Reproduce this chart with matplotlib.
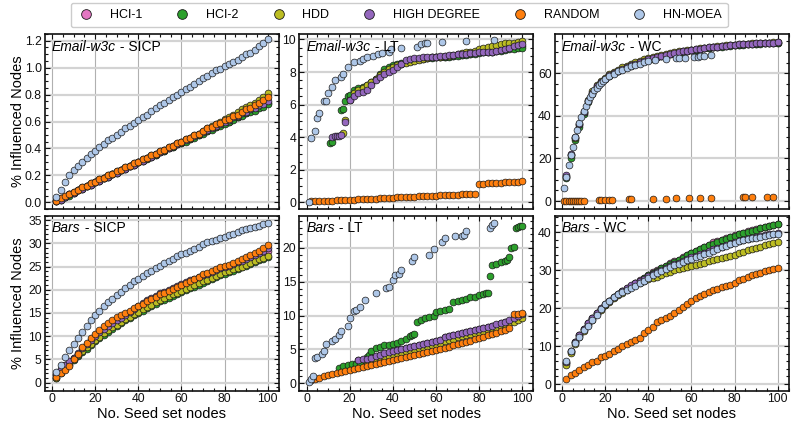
import matplotlib
matplotlib.use("Agg")
import matplotlib.pyplot as plt
from matplotlib.lines import Line2D
from matplotlib.ticker import MultipleLocator, AutoMinorLocator

plt.rcParams['font.family'] = ['Liberation Sans', 'DejaVu Sans']

methods = ['HCI-1', 'HCI-2', 'HDD', 'HIGH DEGREE', 'RANDOM', 'HN-MOEA']
colors = ['#e377c2', '#2ca02c', '#bcbd22', '#9467bd', '#ff7f0e', '#aec7e8']
seeds = list(range(2, 101, 2))

# ---------------- Email-w3c - SICP ----------------
em_sicp_hci1 = [0.01,0.02,0.04,0.06,0.07,0.09,0.10,0.12,0.13,0.15,
                0.16,0.18,0.19,0.21,0.22,0.24,0.25,0.27,0.28,0.30,
                0.31,0.33,0.34,0.35,0.37,0.38,0.40,0.41,0.43,0.44,
                0.46,0.47,0.49,0.50,0.52,0.53,0.55,0.56,0.58,0.59,
                0.60,0.62,0.63,0.65,0.66,0.68,0.69,0.71,0.72,0.74]
em_sicp_hci2 = [0.01,0.02,0.04,0.05,0.07,0.09,0.10,0.12,0.13,0.15,
                0.16,0.18,0.19,0.21,0.22,0.24,0.25,0.27,0.28,0.30,
                0.31,0.32,0.34,0.35,0.37,0.38,0.40,0.41,0.43,0.44,
                0.45,0.47,0.48,0.50,0.51,0.53,0.54,0.56,0.57,0.58,
                0.60,0.61,0.63,0.64,0.66,0.67,0.68,0.70,0.71,0.73]
em_sicp_hdd = [0.01,0.03,0.04,0.06,0.08,0.09,0.11,0.12,0.14,0.15,
               0.17,0.18,0.20,0.21,0.23,0.24,0.26,0.27,0.29,0.30,
               0.32,0.33,0.35,0.36,0.38,0.39,0.41,0.42,0.44,0.45,
               0.47,0.48,0.50,0.51,0.53,0.55,0.57,0.58,0.60,0.62,
               0.63,0.65,0.67,0.69,0.71,0.72,0.74,0.76,0.78,0.81]
em_sicp_highdeg = [0.01,0.02,0.04,0.06,0.07,0.09,0.10,0.12,0.13,0.15,
                   0.16,0.18,0.19,0.21,0.22,0.24,0.25,0.27,0.28,0.30,
                   0.31,0.33,0.34,0.36,0.37,0.39,0.40,0.42,0.43,0.45,
                   0.46,0.48,0.49,0.51,0.52,0.54,0.55,0.57,0.58,0.60,
                   0.61,0.63,0.64,0.66,0.67,0.69,0.70,0.72,0.73,0.75]
em_sicp_random = [0.01,0.03,0.05,0.06,0.08,0.09,0.11,0.12,0.14,0.15,
                  0.17,0.18,0.20,0.21,0.23,0.24,0.26,0.27,0.29,0.30,
                  0.32,0.33,0.35,0.36,0.38,0.39,0.41,0.42,0.44,0.45,
                  0.47,0.48,0.50,0.51,0.53,0.55,0.56,0.58,0.59,0.61,
                  0.62,0.64,0.65,0.67,0.69,0.70,0.72,0.74,0.76,0.78]
em_sicp_hnmoea = [0.04,0.09,0.15,0.20,0.24,0.27,0.30,0.33,0.36,0.38,
                  0.41,0.43,0.46,0.48,0.50,0.52,0.55,0.57,0.59,0.61,
                  0.63,0.65,0.68,0.70,0.72,0.74,0.76,0.78,0.80,0.82,
                  0.84,0.86,0.88,0.90,0.92,0.94,0.96,0.98,0.99,1.01,
                  1.03,1.04,1.06,1.08,1.10,1.11,1.13,1.16,1.18,1.21]

# ---------------- Email-w3c - LT ----------------
em_lt_dense_x = list(range(20, 101, 2))
em_lt_hci1 = [6.4,6.7,6.85,6.95,7.05,7.3,7.55,7.8,8.05,8.2,
              8.3,8.4,8.5,8.6,8.7,8.75,8.8,8.85,8.85,8.9,
              8.9,8.95,8.95,9.0,9.0,9.05,9.05,9.1,9.1,9.15,
              9.2,9.2,9.25,9.25,9.3,9.35,9.4,9.45,9.5,9.55,9.6]
em_lt_hci2_x = [11, 12, 16, 17, 18, 19] + em_lt_dense_x
em_lt_hci2 = [3.65,3.7,5.7,5.75,6.2,6.5,
              6.6,6.9,7.0,7.1,7.2,7.4,7.6,7.9,8.2,8.3,
              8.4,8.5,8.55,8.6,8.7,8.75,8.8,8.8,8.85,8.85,
              8.9,8.9,8.95,8.95,9.0,9.0,9.05,9.05,9.1,9.1,
              9.15,9.2,9.2,9.25,9.3,9.3,9.35,9.4,9.4,9.45,9.45]
em_lt_hdd_x = [17, 18] + em_lt_dense_x
em_lt_hdd = [4.25,5.05,
             6.3,6.7,6.9,7.0,7.2,7.4,7.6,7.8,8.0,8.2,
             8.3,8.4,8.5,8.55,8.6,8.7,8.75,8.8,8.85,8.9,
             8.9,8.95,9.0,9.0,9.05,9.1,9.15,9.2,9.25,9.3,
             9.4,9.5,9.55,9.6,9.65,9.7,9.75,9.8,9.8,9.85,9.9]
em_lt_highdeg_x = [12, 13, 14, 15, 16, 18] + em_lt_dense_x
em_lt_highdeg = [4.0,4.05,4.1,4.1,4.15,4.95,
                 6.3,6.5,6.7,6.8,6.9,7.2,7.5,7.7,7.9,8.0,
                 8.1,8.3,8.5,8.75,8.8,8.85,8.85,8.9,8.9,8.95,
                 8.95,9.0,9.0,9.05,9.05,9.1,9.1,9.1,9.15,9.15,
                 9.2,9.2,9.25,9.25,9.3,9.35,9.4,9.5,9.6,9.65,9.7]
em_lt_random = [0.06,0.07,0.08,0.09,0.11,0.12,0.13,0.14,0.16,0.17,
                0.18,0.19,0.21,0.22,0.23,0.24,0.26,0.27,0.28,0.29,
                0.31,0.32,0.33,0.34,0.36,0.37,0.38,0.40,0.41,0.42,
                0.43,0.45,0.46,0.47,0.48,0.50,0.51,0.52,0.54,1.15,
                1.16,1.18,1.19,1.21,1.22,1.24,1.25,1.27,1.28,1.30]
em_lt_hnmoea_x = [1,2,4,5,6,8,9,10,12,13,16,17,19,22,25,26,28,31,33,35,
                  38,39,44,51,53,55,56,63,74,87]
em_lt_hnmoea = [0.05,3.95,4.4,5.2,5.5,6.2,6.25,6.7,7.1,7.5,7.7,7.9,8.3,8.6,8.65,
                8.8,8.9,9.0,9.1,9.15,9.2,9.4,9.45,9.55,9.7,9.75,9.8,9.85,9.9,9.95]

# ---------------- Email-w3c - WC ----------------
em_wc_hci1 = [11.8,21.5,29.5,35.5,41.5,46.8,50.8,53.8,55.9,57.4,
              58.9,60.1,61.1,62.1,62.9,63.7,64.4,65.1,65.8,66.4,
              67.0,67.6,68.1,68.6,69.1,69.5,69.9,70.3,70.6,70.9,
              71.2,71.5,71.8,72.1,72.3,72.5,72.7,72.9,73.1,73.3,
              73.5,73.6,73.8,73.9,74.0,74.1,74.2,74.3,74.4,74.5]
em_wc_hci2 = [11.0,20.0,28.5,35.0,41.0,46.5,50.5,53.5,55.8,57.3,
              58.8,60.0,61.0,62.0,62.8,63.6,64.3,65.0,65.7,66.3,
              66.9,67.5,68.0,68.5,69.0,69.4,69.8,70.2,70.5,70.8,
              71.1,71.4,71.7,72.0,72.2,72.4,72.6,72.8,73.0,73.2,
              73.4,73.5,73.7,73.8,73.9,74.0,74.1,74.2,74.3,74.4]
em_wc_hdd = [11.5,21.5,29.5,36.0,42.0,47.5,51.5,54.5,56.5,58.0,
             59.5,60.8,61.8,62.8,63.6,64.4,65.2,66.0,66.6,67.2,
             67.8,68.3,68.8,69.2,69.6,70.0,70.3,70.6,70.9,71.2,
             71.5,71.8,72.0,72.3,72.5,72.7,72.9,73.1,73.3,73.5,
             73.7,73.8,74.0,74.1,74.2,74.3,74.4,74.5,74.6,74.7]
em_wc_highdeg = [12.0,22.0,30.0,36.0,42.0,47.0,51.0,54.0,56.0,57.5,
                 59.0,60.2,61.2,62.2,63.0,63.8,64.5,65.2,66.0,66.6,
                 67.2,67.8,68.3,68.8,69.2,69.6,70.0,70.4,70.7,71.0,
                 71.3,71.6,71.9,72.2,72.4,72.6,72.8,73.0,73.2,73.4,
                 73.6,73.7,73.9,74.0,74.1,74.2,74.3,74.4,74.5,74.6]
em_wc_random_x = [1,2,3,4,5,6,7,8,9,10,17,18,20,22,23,31,32,42,48,53,59,64,69,84,85,88,95,98]
em_wc_random = [0.0,0.0,0.0,0.05,0.05,0.1,0.1,0.1,0.15,0.15,0.35,0.4,0.45,0.5,0.55,
                0.8,0.85,1.1,1.15,1.25,1.3,1.45,1.6,1.7,1.75,1.8,1.9,1.95]
em_wc_hnmoea_x = list(range(1, 21)) + list(range(22, 41, 2)) + [43,48,53,54,57,61,63,64,66,69]
em_wc_hnmoea = [6.0,11.5,16.9,21.5,25.5,30.0,33.5,36.5,39.5,42.3,
                44.8,46.9,48.8,50.5,52.0,53.3,54.5,55.6,56.5,57.3,
                58.7,59.9,60.9,61.8,62.6,63.3,64.0,64.6,65.3,65.9,
                66.4,66.9,67.1,67.2,67.3,67.6,67.8,68.0,68.2,68.5]

# ---------------- Bars - SICP ----------------
bars_sicp_hci1 = [1.6,2.8,3.7,4.5,5.3,6.2,7.1,8.0,8.9,9.7,
                  10.5,11.2,11.9,12.6,13.2,13.8,14.4,15.0,15.6,16.2,
                  16.8,17.3,17.8,18.3,18.8,19.2,19.6,20.0,20.4,20.8,
                  21.2,21.6,22.0,22.4,22.8,23.1,23.5,23.8,24.2,24.5,
                  24.8,25.1,25.5,25.9,26.3,26.7,27.1,27.5,27.9,28.3]
bars_sicp_hci2 = [0.9,2.0,3.0,3.9,4.8,5.7,6.5,7.3,8.1,8.9,
                  9.6,10.3,11.0,11.6,12.2,12.8,13.4,13.9,14.5,15.0,
                  15.5,16.0,16.5,17.0,17.5,17.9,18.3,18.7,19.1,19.5,
                  19.9,20.3,20.7,21.1,21.5,21.9,22.3,22.7,23.1,23.5,
                  23.8,24.1,24.4,24.8,25.2,25.6,26.0,26.4,26.7,27.0]
bars_sicp_hdd = [1.0,2.2,3.2,4.1,5.0,5.9,6.8,7.6,8.4,9.2,
                 9.9,10.6,11.3,11.9,12.5,13.1,13.7,14.2,14.8,15.3,
                 15.8,16.3,16.8,17.3,17.8,18.2,18.6,19.0,19.4,19.8,
                 20.2,20.6,21.0,21.4,21.8,22.2,22.6,23.0,23.4,23.8,
                 24.1,24.4,24.7,25.0,25.4,25.8,26.2,26.6,26.9,27.2]
bars_sicp_highdeg = [1.8,3.0,3.9,4.6,5.4,6.4,7.4,8.3,9.2,10.0,
                     10.8,11.5,12.2,12.9,13.5,14.0,14.6,15.2,15.8,16.5,
                     17.1,17.7,18.2,18.7,19.2,19.6,20.0,20.4,20.8,21.2,
                     21.6,22.0,22.4,22.8,23.2,23.5,23.9,24.2,24.6,24.9,
                     25.2,25.5,25.9,26.3,26.7,27.1,27.5,27.9,28.4,28.9]
bars_sicp_random = [1.2,2.0,2.7,3.6,5.0,6.2,7.6,8.6,9.6,10.5,
                    11.3,12.1,12.8,13.5,14.1,14.6,15.0,15.4,16.0,16.4,
                    17.0,17.5,18.0,18.5,19.0,19.4,19.8,20.2,20.6,21.0,
                    21.4,21.9,22.3,22.8,23.3,23.7,24.1,24.5,24.8,25.1,
                    25.4,25.8,26.2,26.6,27.0,27.5,27.9,28.4,29.0,29.6]
bars_sicp_hnmoea = [2.3,3.8,5.6,7.0,8.3,9.7,11.0,12.2,13.4,14.5,
                    15.5,16.5,17.3,18.0,18.8,19.6,20.4,21.1,21.8,22.4,
                    23.0,23.6,24.1,24.6,25.1,25.7,26.2,26.7,27.2,27.6,
                    28.0,28.4,28.8,29.3,29.8,30.2,30.5,30.8,31.1,31.4,
                    31.7,32.0,32.4,32.8,33.1,33.4,33.6,33.8,34.1,34.3]

# ---------------- Bars - LT ----------------
bars_lt_hci1_x = list(range(24, 101, 2))
bars_lt_hci1 = [3.4,3.5,3.6,3.75,3.95,4.15,4.35,4.5,4.65,4.85,
                5.0,5.15,5.35,5.5,5.65,5.8,5.95,6.1,6.25,6.4,
                6.85,7.0,7.15,7.3,7.45,7.55,7.7,7.8,7.95,8.1,
                8.25,8.45,8.65,8.85,9.05,9.25,9.55,9.85,10.2]
bars_lt_hci2_x = [15,17,19,21,23,25,27,28,29,30,32,34,36,38,40,42,44,46,48,49,50,51,
                  53,55,57,59,60,62,64,66,68,70,72,74,76,78,80,82,83,84,85,86,88,90,
                  92,93,94,95,96,97,98,99,100]
bars_lt_hci2 = [2.3,2.5,2.7,2.8,2.9,3.0,3.4,3.9,4.2,4.8,5.2,5.4,5.6,5.7,5.8,6.0,6.3,6.6,
                7.0,7.2,7.3,9.1,9.4,9.6,9.8,10.0,10.5,10.7,10.8,11.0,12.0,12.1,12.3,12.5,
                12.7,12.8,13.0,13.2,13.3,13.3,15.8,17.5,17.7,17.9,18.0,18.2,18.6,20.0,
                20.1,23.0,23.1,23.2,23.3]
bars_lt_hdd_x = list(range(28, 101, 2))
bars_lt_hdd = [3.2,3.35,3.5,3.7,3.9,4.1,4.3,4.5,4.65,4.8,
               4.95,5.1,5.25,5.4,5.55,5.7,5.85,6.0,6.2,6.4,
               6.6,6.8,6.95,7.1,7.25,7.4,7.55,7.7,7.85,8.0,
               8.2,8.4,8.6,8.85,9.1,9.4,9.7]
bars_lt_highdeg_x = list(range(24, 101, 2))
bars_lt_highdeg = [3.45,3.55,3.65,3.8,4.0,4.2,4.4,4.55,4.7,4.9,
                   5.05,5.2,5.4,5.55,5.7,5.85,6.0,6.15,6.3,6.45,
                   6.9,7.05,7.2,7.35,7.5,7.6,7.75,7.85,8.0,8.15,
                   8.3,8.5,8.7,8.9,9.1,9.3,9.6,9.9,10.3]
bars_lt_random = [0.55,0.7,0.85,1.0,1.15,1.3,1.45,1.6,1.75,1.9,
                  2.05,2.2,2.35,2.5,2.65,2.8,2.95,3.1,3.3,3.45,
                  3.6,3.75,3.9,4.05,4.2,4.35,4.5,4.65,4.8,4.95,
                  5.1,5.25,5.4,5.6,5.75,5.9,6.1,6.3,6.5,6.7,
                  6.9,7.1,7.3,7.5,7.7,7.9,8.1,10.2,10.3,10.4]
bars_lt_hnmoea_x = [1,2,3,4,5,7,8,9,12,13,15,16,19,20,22,23,25,27,32,37,
                    38,40,41,43,44,49,50,57,59,63,64,69,72,73,74,85,86,87]
bars_lt_hnmoea = [0.15,0.65,1.0,3.7,3.95,4.3,4.7,5.8,6.3,6.6,
                  7.2,7.75,8.4,9.7,10.7,10.9,11.2,12.3,13.3,14.1,
                  14.3,15.3,16.0,16.1,16.8,18.0,18.6,18.9,19.9,20.9,
                  21.5,21.7,21.8,21.9,22.5,23.0,23.4,23.7]

# ---------------- Bars - WC ----------------
bars_wc_hci1 = [5.6,8.6,11.0,12.9,14.5,16.0,17.4,18.7,19.9,20.9,
                21.9,22.9,23.7,24.5,25.2,25.9,26.6,27.3,28.0,28.7,
                29.4,30.0,30.6,31.2,31.8,32.3,32.8,33.4,34.0,34.6,
                35.1,35.6,36.1,36.6,37.5,37.6,38.0,38.4,38.8,39.2,
                39.6,39.9,40.2,40.5,40.8,41.1,41.4,41.7,42.0,42.2]
bars_wc_hci2 = [5.5,8.5,11.0,12.8,14.5,16.0,17.3,18.6,19.8,20.8,
                21.8,22.8,23.6,24.4,25.1,25.8,26.5,27.2,27.9,28.6,
                29.3,29.9,30.5,31.1,31.7,32.2,32.7,33.3,33.9,34.5,
                35.0,35.5,36.0,36.5,37.0,37.5,37.9,38.3,38.7,39.1,
                39.5,39.8,40.1,40.4,40.7,41.0,41.3,41.6,41.9,42.1]
bars_wc_hdd = [5.0,8.2,10.6,12.4,14.1,15.6,17.0,18.4,19.6,20.7,
               21.7,22.6,23.4,24.1,24.8,25.5,26.1,26.7,27.2,27.6,
               27.9,28.3,28.8,29.2,29.6,30.0,30.3,30.6,30.9,31.1,
               31.4,31.7,32.0,32.4,32.6,32.9,33.2,33.5,33.8,34.0,
               34.4,34.9,35.2,35.5,35.8,36.1,36.5,36.9,37.2,37.5]
bars_wc_highdeg = [5.8,8.8,11.2,13.0,14.6,16.1,17.5,18.8,20.0,21.0,
                   22.0,23.0,23.8,24.6,25.3,26.0,26.6,27.2,27.8,28.4,
                   29.0,29.6,30.1,30.6,31.1,31.5,32.0,32.5,33.0,33.4,
                   33.8,34.2,34.6,35.0,35.6,35.9,36.2,36.6,37.0,37.4,
                   37.7,38.0,38.3,38.6,38.8,39.0,39.2,39.4,39.6,39.7]
bars_wc_random = [1.2,2.4,3.0,3.6,4.4,5.1,5.7,6.2,7.0,7.4,
                  7.8,8.6,9.3,9.9,10.5,11.1,11.7,12.2,13.5,14.2,
                  15.1,16.4,16.8,17.4,18.0,18.7,19.5,20.2,21.0,21.9,
                  22.6,23.2,23.7,24.3,24.8,25.1,25.5,25.9,26.1,26.5,
                  27.3,27.6,28.1,28.6,28.9,29.3,29.7,30.1,30.4,30.7]
bars_wc_hnmoea = [6.0,8.6,10.8,12.5,14.2,15.4,16.8,18.3,19.8,21.2,
                  22.0,22.9,23.7,24.3,24.9,25.4,25.9,26.5,27.1,27.9,
                  28.6,29.2,29.8,30.3,30.9,31.3,31.7,32.2,32.6,33.0,
                  33.4,33.8,34.2,34.6,35.0,35.5,36.0,36.4,36.8,37.2,
                  37.6,37.9,38.2,38.4,38.6,38.8,39.0,39.2,39.4,39.5]

panels = [
    ('Email-w3c', 'SICP', [(seeds, em_sicp_hci1), (seeds, em_sicp_hci2), (seeds, em_sicp_hdd),
                           (seeds, em_sicp_highdeg), (seeds, em_sicp_random), (seeds, em_sicp_hnmoea)],
     (-0.05, 1.25), 0.2),
    ('Email-w3c', 'LT', [(em_lt_dense_x, em_lt_hci1), (em_lt_hci2_x, em_lt_hci2), (em_lt_hdd_x, em_lt_hdd),
                         (em_lt_highdeg_x, em_lt_highdeg), (seeds, em_lt_random),
                         (em_lt_hnmoea_x, em_lt_hnmoea)],
     (-0.4, 10.33), 2),
    ('Email-w3c', 'WC', [(seeds, em_wc_hci1), (seeds, em_wc_hci2), (seeds, em_wc_hdd),
                         (seeds, em_wc_highdeg), (em_wc_random_x, em_wc_random),
                         (em_wc_hnmoea_x, em_wc_hnmoea)],
     (-3.76, 78.5), 20),
    ('Bars', 'SICP', [(seeds, bars_sicp_hci1), (seeds, bars_sicp_hci2), (seeds, bars_sicp_hdd),
                      (seeds, bars_sicp_highdeg), (seeds, bars_sicp_random), (seeds, bars_sicp_hnmoea)],
     (-1.7, 36.0), 5),
    ('Bars', 'LT', [(bars_lt_hci1_x, bars_lt_hci1), (bars_lt_hci2_x, bars_lt_hci2),
                    (bars_lt_hdd_x, bars_lt_hdd), (bars_lt_highdeg_x, bars_lt_highdeg),
                    (seeds, bars_lt_random), (bars_lt_hnmoea_x, bars_lt_hnmoea)],
     (-1.07, 24.8), 5),
    ('Bars', 'WC', [(seeds, bars_wc_hci1), (seeds, bars_wc_hci2), (seeds, bars_wc_hdd),
                    (seeds, bars_wc_highdeg), (seeds, bars_wc_random), (seeds, bars_wc_hnmoea)],
     (-1.7, 44.4), 10),
]

W, H = 793.0, 424.0
fig = plt.figure(figsize=(W / 100, H / 100), dpi=100)
lefts = [44.5, 299.0, 554.5]
tops = [34.0, 215.5]
aw, ah = 234.0, 175.0

for i, (net, model, series, ylim, ystep) in enumerate(panels):
    r, c = divmod(i, 3)
    ax = fig.add_axes([lefts[c] / W, 1 - (tops[r] + ah) / H, aw / W, ah / H])
    for (xs, ys), col in zip(series, colors):
        ax.scatter(xs, ys, s=24, c=col, edgecolors='#1a1a1a', linewidths=0.5, zorder=3)
    ax.set_xlim(-3.5, 105)
    ax.set_ylim(*ylim)
    ax.xaxis.set_major_locator(MultipleLocator(20))
    ax.xaxis.set_minor_locator(AutoMinorLocator())
    ax.yaxis.set_major_locator(MultipleLocator(ystep))
    ax.yaxis.set_minor_locator(AutoMinorLocator())
    ax.set_axisbelow(True)
    ax.grid(True, which='major', axis='x', color='#b0b0b0', lw=0.8)
    ax.grid(True, which='major', axis='y', color='#d3d3d3', lw=1.6)
    for sp in ax.spines.values():
        sp.set_linewidth(1.2)
        sp.set_color('#111111')
    ax.tick_params(which='both', direction='in', top=True, right=True, width=0.8,
                   labelsize=8.8, pad=2, colors='#111111')
    ax.tick_params(which='major', length=3.5)
    ax.tick_params(which='minor', length=2)
    if r == 0:
        ax.tick_params(labelbottom=False)
    else:
        ax.set_xlabel('No. Seed set nodes', fontsize=10.5, labelpad=1)
    if c == 0:
        ax.set_ylabel('% Influenced Nodes', fontsize=10.5)
        ax.yaxis.set_label_coords(-0.085, 0.5)
    t = ax.text(0.032, 0.966, net, transform=ax.transAxes, style='italic',
                fontsize=10, va='top', ha='left', zorder=5)
    ax.annotate(' - ' + model, xy=(1, 0), xycoords=t, va='bottom', ha='left',
                fontsize=10, zorder=5)

handles = [Line2D([0], [0], ls='', marker='o', markersize=7, markerfacecolor=col,
                  markeredgecolor='#1a1a1a', markeredgewidth=0.6) for col in colors]
fig.legend(handles, methods, loc='upper center', bbox_to_anchor=(0.5035, 0.993), ncol=6,
           frameon=True, fancybox=True, framealpha=1, edgecolor='#cccccc', fontsize=9,
           handlelength=1.5, handletextpad=1.15, columnspacing=2.45, borderpad=0.5,
           borderaxespad=0)

fig.savefig('out.png', dpi=100)
